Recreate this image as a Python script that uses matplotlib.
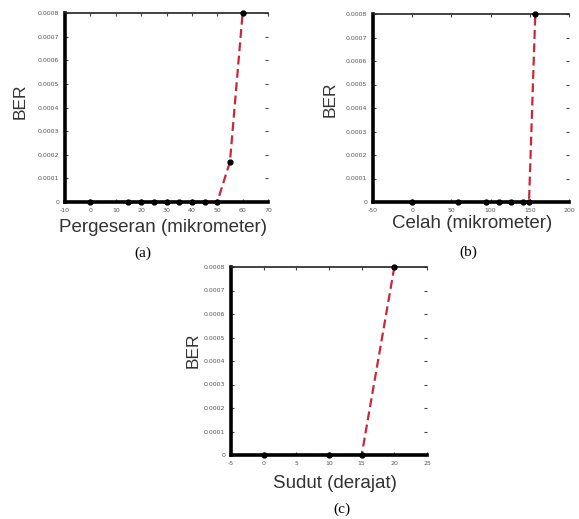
import matplotlib
matplotlib.use("Agg")
import matplotlib.pyplot as plt

# ── Data ─────────────────────────────────────────────────────────────────────
shift_um  = [0, 15, 20, 25, 30, 35, 40, 45, 50, 55, 60]
shift_ber = [0, 0, 0, 0, 0, 0, 0, 0, 0, 0.00017, 0.0008]

gap_um  = [0, 58, 94, 111, 126, 141, 149, 157]
gap_ber = [0, 0, 0, 0, 0, 0, 0, 0.0008]

angle_deg = [0, 10, 15, 20]
angle_ber = [0, 0, 0, 0.0008]

ber_ticks  = [0, 0.0001, 0.0002, 0.0003, 0.0004, 0.0005, 0.0006, 0.0007, 0.0008]
ber_labels = ["0"] + [f"{v:.4f}" for v in ber_ticks[1:]]

RED = "#c8283a"
W, H = 579, 519

fig = plt.figure(figsize=(W / 100, H / 100), dpi=100)


def panel(rect, x, y, xlim, xticks, xlabel, caption, cap_xy,
          xlab_xy, ylab_xy):
    # rect in pixels: left, top, right, bottom
    l, t, r, b = rect
    ax = fig.add_axes([l / W, 1 - b / H, (r - l) / W, (b - t) / H])
    ax.plot(x, y, "--", color=RED, lw=1.6, dashes=(4, 2), zorder=2)
    ax.plot(x, y, "o", color="black", ms=3.5, zorder=3, clip_on=False)
    ax.set_xlim(*xlim)
    ax.set_ylim(0, 0.0008)
    ax.set_xticks(xticks)
    ax.set_xticklabels([str(v) for v in xticks])
    ax.set_yticks(ber_ticks)
    ax.set_yticklabels(ber_labels)
    ax.tick_params(direction="in", length=2.5, width=0.8, color="#444",
                   labelsize=4.5, labelcolor="#555", pad=4,
                   top=True, right=True)

    for side in ("left", "bottom"):
        ax.spines[side].set_linewidth(2.6)
        ax.spines[side].set_color("black")
    ax.spines["top"].set_linewidth(1.2)
    ax.spines["top"].set_color("#222")
    ax.spines["right"].set_visible(False)

    ax.set_xlabel(xlabel, fontsize=13.5, color="#333",
                  family="Liberation Sans", va="center")
    ax.set_ylabel("BER", fontsize=12.5, color="#333",
                  family="Liberation Sans", va="center", ha="center")
    ax.xaxis.set_label_coords((xlab_xy[0] - l) / (r - l),
                              (b - xlab_xy[1]) / (b - t))
    ax.yaxis.set_label_coords((ylab_xy[0] - l) / (r - l),
                              (b - ylab_xy[1]) / (b - t))

    fig.text(cap_xy[0] / W, 1 - cap_xy[1] / H, caption, fontsize=11,
             family="Liberation Serif", ha="center", va="center")
    return ax


panel((65, 13, 268, 202), shift_um, shift_ber, (-10, 70),
      [-10, 0, 10, 20, 30, 40, 50, 60, 70], "Pergeseran (mikrometer)",
      "(a)", (143, 253), (163, 228), (20, 101))

panel((373, 14, 569, 202), gap_um, gap_ber, (-50, 200),
      [-50, 0, 50, 100, 150, 200], "Celah (mikrometer)",
      "(b)", (468, 252), (472, 224), (330, 99))

panel((231, 267, 427, 455), angle_deg, angle_ber, (-5, 25),
      [-5, 0, 5, 10, 15, 20, 25], "Sudut (derajat)",
      "(c)", (342, 509), (335, 484), (193, 350))

fig.savefig("out.png", dpi=100)
